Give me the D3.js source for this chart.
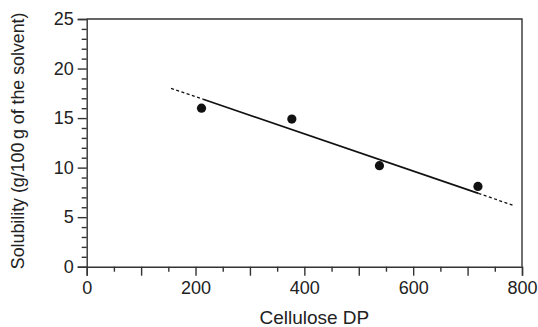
<!DOCTYPE html>
<html>
<head>
<meta charset="utf-8">
<script src="https://cdn.jsdelivr.net/npm/d3@7"></script>
<style>
  body { margin: 0; background: #fff; }
  text { font-family: "Liberation Sans", Arial, sans-serif; fill: #222; }
</style>
</head>
<body>
<figure id="dp-chart" style="margin:0"></figure>
<script>
// measured points (cellulose DP vs solubility)
var dpValues = [211, 377, 538, 719];
var solubility = [16.0, 14.9, 10.2, 8.1];

// fitted line as drawn: solid part and dotted extensions
var fitSolid = [[214, 16.9], [720, 7.4]];
var fitDashLeft = [[155, 18.0], [214, 16.9]];
var fitDashRight = [[720, 7.4], [786, 6.15]];

var xTickLabels = [0, 200, 400, 600, 800];
var yTickLabels = [0, 5, 10, 15, 20, 25];

// set the dimensions and margins of the graph
var margin = {top: 19, right: 16, bottom: 60.3, left: 86.7},
    width = 538 - margin.left - margin.right,
    height = 327 - margin.top - margin.bottom;

var svg = d3.select("figure#dp-chart")
  .append("svg")
    .attr("width", 538)
    .attr("height", 327)
  .append("g")
    .attr("transform", "translate(" + margin.left + "," + margin.top + ")");

var x = d3.scaleLinear().domain([0, 800]).range([0, width]);
var y = d3.scaleLinear().domain([0, 25]).range([height, 0]);

var axisColor = "#333";

// minor ticks first, then major ones with labels
svg.append("g")
  .attr("transform", "translate(0," + height + ")")
  .call(d3.axisBottom(x).tickValues(d3.range(50, 800, 100)).tickSize(5).tickFormat(""))
  .call(g => g.select(".domain").remove());
svg.append("g")
  .attr("transform", "translate(0," + height + ")")
  .attr("class", "xAxis")
  .call(d3.axisBottom(x).tickValues(d3.range(0, 801, 100)).tickSize(9).tickPadding(6)
    .tickFormat(d => xTickLabels.indexOf(d) >= 0 ? d : ""));

svg.append("g")
  .call(d3.axisLeft(y).tickValues(d3.range(0, 26, 1).filter(d => d % 5 != 0)).tickSize(5).tickFormat(""))
  .call(g => g.select(".domain").remove());
svg.append("g")
  .attr("class", "yAxis")
  .call(d3.axisLeft(y).tickValues(yTickLabels).tickSize(9).tickPadding(4));

svg.selectAll(".tick line, .domain")
  .attr("stroke", axisColor)
  .attr("stroke-width", 1.4);
svg.selectAll(".tick text")
  .style("font-size", "18px")
  .attr("fill", "#222");

// top and right frame
svg.append("path")
  .attr("fill", "none")
  .attr("stroke", axisColor)
  .attr("stroke-width", 1.4)
  .attr("d", "M0,0H" + width + "V" + height);

var line = d3.line()
  .x(function(d) { return x(d[0]) })
  .y(function(d) { return y(d[1]) });

svg.append("path")
  .datum(fitSolid)
  .attr("fill", "none")
  .attr("stroke", "#111")
  .attr("stroke-width", 1.6)
  .attr("d", line);

[fitDashLeft, fitDashRight].forEach(function(seg) {
  svg.append("path")
    .datum(seg)
    .attr("fill", "none")
    .attr("stroke", "#111")
    .attr("stroke-width", 1.3)
    .style("stroke-dasharray", "3 2.5")
    .attr("d", line);
});

svg.selectAll("circle.pt")
  .data(dpValues)
  .enter().append("circle")
    .attr("class", "pt")
    .attr("cx", d => x(d))
    .attr("cy", (d, i) => y(solubility[i]))
    .attr("r", 4.6)
    .attr("fill", "#111");

// axis titles
svg.append("text")
  .attr("x", width / 2 + 10)
  .attr("y", height + 57.5)
  .attr("text-anchor", "middle")
  .style("font-size", "19px")
  .text("Cellulose DP");

svg.append("text")
  .attr("transform", "translate(" + (-margin.left + 24) + "," + (height / 2 - 2) + ") rotate(-90)")
  .attr("text-anchor", "middle")
  .style("font-size", "17.8px")
  .text("Solubility (g/100\u2009g of the solvent)");
</script>
</body>
</html>
